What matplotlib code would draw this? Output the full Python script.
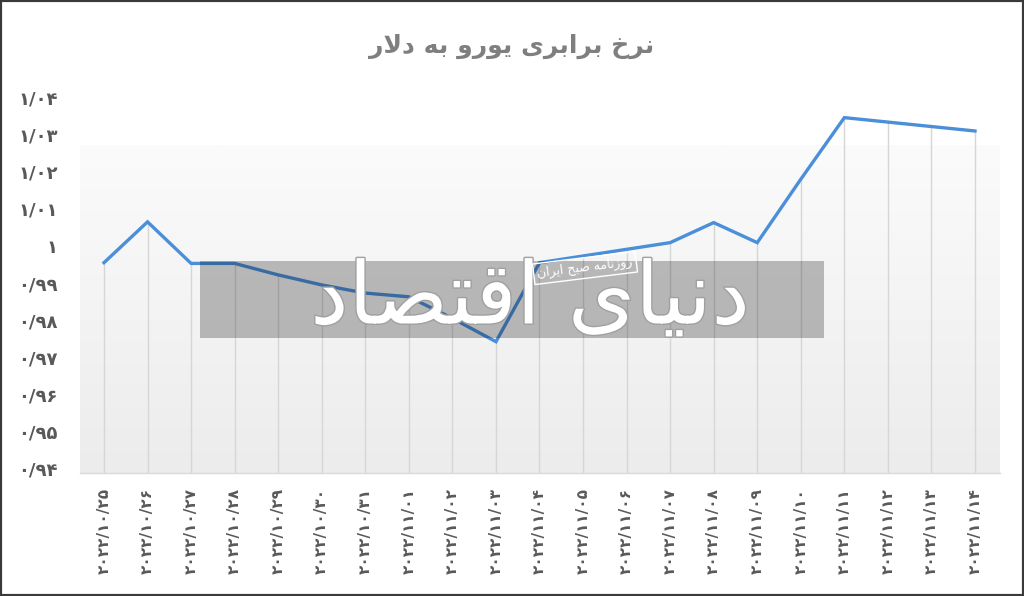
import matplotlib
matplotlib.use("Agg")
import matplotlib.pyplot as plt
import matplotlib.patheffects as pe
from matplotlib.patches import Rectangle
from matplotlib.colors import LinearSegmentedColormap
import numpy as np

# ---------------- data ----------------
dates = ['۲۰۲۲/۱۰/۲۵', '۲۰۲۲/۱۰/۲۶', '۲۰۲۲/۱۰/۲۷', '۲۰۲۲/۱۰/۲۸', '۲۰۲۲/۱۰/۲۹',
         '۲۰۲۲/۱۰/۳۰', '۲۰۲۲/۱۰/۳۱', '۲۰۲۲/۱۱/۰۱', '۲۰۲۲/۱۱/۰۲', '۲۰۲۲/۱۱/۰۳',
         '۲۰۲۲/۱۱/۰۴', '۲۰۲۲/۱۱/۰۵', '۲۰۲۲/۱۱/۰۶', '۲۰۲۲/۱۱/۰۷', '۲۰۲۲/۱۱/۰۸',
         '۲۰۲۲/۱۱/۰۹', '۲۰۲۲/۱۱/۱۰', '۲۰۲۲/۱۱/۱۱', '۲۰۲۲/۱۱/۱۲', '۲۰۲۲/۱۱/۱۳',
         '۲۰۲۲/۱۱/۱۴']
eur_usd = [0.9955, 1.0065, 0.9953, 0.9953, 0.9922, 0.9895, 0.9873, 0.9863, 0.9805, 0.9742,
           0.9955, 0.9973, 0.9991, 1.0009, 1.0063, 1.0009, 1.0180, 1.0346, 1.0334, 1.0322,
           1.0310]
y_ticks = [0.94, 0.95, 0.96, 0.97, 0.98, 0.99, 1.00, 1.01, 1.02, 1.03, 1.04]
y_tick_labels = ['۰/۹۴', '۰/۹۵', '۰/۹۶', '۰/۹۷', '۰/۹۸', '۰/۹۹', '۱',
                 '۱/۰۱', '۱/۰۲', '۱/۰۳', '۱/۰۴']
# Persian text, pre-shaped (presentation forms, visual order)
title_text = "\uFEAD\uFEFB\uFEA9 \uFEEA\uFE91 \uFEED\uFEAD\uFEEE\uFEF3 \uFEEF\uFEAE\uFE91\uFE8D\uFEAE\uFE91 \uFEA5\uFEAE\uFEE7"
wm_small = "\uFEE5\uFE8D\uFEAE\uFEF3\uFE8D \uFEA2\uFE92\uFEBB \uFEEA\uFEE3\uFE8E\uFEE7\uFEAF\uFEED\uFEAD"
wm_big = "\uFEA9\uFE8E\uFEBC\uFE98\uFED7\uFE8D \uFEEF\uFE8E\uFEF4\uFEE7\uFEA9"

plt.rcParams['font.family'] = ['DejaVu Sans']

W, H = 1024, 596
fig = plt.figure(figsize=(W / 100, H / 100), dpi=100)
fig.patch.set_facecolor('white')

ax_left, ax_right, ax_top, ax_bot = 80, 1000, 97.6, 473
ax = fig.add_axes([ax_left / W, 1 - ax_bot / H, (ax_right - ax_left) / W, (ax_bot - ax_top) / H])
ax.set_facecolor('none')

x = np.arange(len(dates))
ymin, ymax = 0.9388, 1.04
ax.set_xlim(-0.551, 20.574)
ax.set_ylim(ymin, ymax)

# gradient plot-area background
grad_top = 1.0270
grad = np.linspace(0, 1, 256).reshape(-1, 1)
cmap = LinearSegmentedColormap.from_list('g', ['#ececec', '#fbfbfb'])
ax.imshow(grad, cmap=cmap, origin='lower', aspect='auto',
          extent=[-0.551, 20.574, ymin, grad_top], zorder=0, interpolation='bilinear')

# drop lines
ax.vlines(x, ymin, eur_usd, color='#d6d6d6', lw=1.0, zorder=1)
# line
ax.plot(x, eur_usd, color='#4b8fd8', lw=2.4, solid_joinstyle='miter', zorder=3)

for s in ['top', 'right', 'left']:
    ax.spines[s].set_visible(False)
ax.spines['bottom'].set_color('#d9d9d9')
ax.spines['bottom'].set_linewidth(1.0)

ax.set_yticks(y_ticks)
ax.set_yticklabels(y_tick_labels, fontsize=13, fontweight='bold', color='#595959')
ax.set_xticks(x)
ax.set_xticklabels(dates, rotation=90, fontsize=11, fontweight='bold', color='#595959')
ax.tick_params(axis='y', length=0, pad=16)
ax.tick_params(axis='x', length=0, pad=11)

# title
fig.text(512 / W, 1 - 46 / H, title_text, ha='center', va='center', fontsize=18,
         fontweight='bold', color='#7f7f7f')

# watermark
fig.patches.append(Rectangle((200 / W, 1 - 338 / H), 624 / W, 77 / H, transform=fig.transFigure,
                             facecolor='black', alpha=0.25, edgecolor='none', zorder=5))
fig.text(530 / W, 1 - 300 / H, wm_big, ha='center', va='center', fontsize=62, color='white',
         zorder=6, path_effects=[pe.withStroke(linewidth=2, foreground='#a0a0a0')])
fig.text(585 / W, 1 - 268 / H, wm_small, ha='center', va='center', fontsize=9, color='white',
         rotation=7, zorder=7,
         bbox=dict(boxstyle='square,pad=0.3', facecolor='none', edgecolor='white', lw=1))

# image border
fig.patches.append(Rectangle((0, 0), 1, 1, transform=fig.transFigure, fill=False,
                             edgecolor='#3a3a3a', lw=3, zorder=10))

fig.savefig('out.png', dpi=100)
